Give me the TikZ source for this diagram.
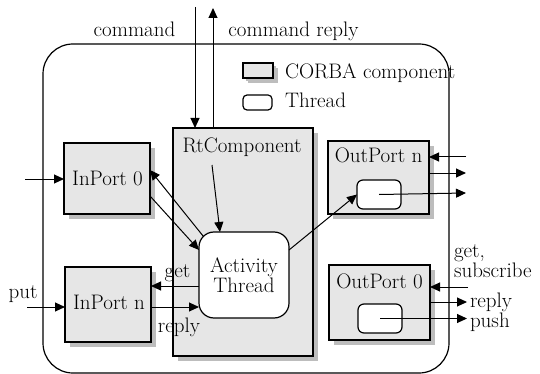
\documentclass[tikz,border=0pt]{standalone}
\usetikzlibrary{arrows.meta,shadows}
\definecolor{boxgray}{HTML}{E6E6E6}
\definecolor{shadowgray}{HTML}{BDBDBD}
\begin{document}
\begin{tikzpicture}[x=1pt,y=-1pt,
  every node/.style={font=\fontsize{21}{21}\selectfont, inner sep=0pt, outer sep=0pt},
  comp/.style={draw, line width=1.2pt, fill=boxgray,
    drop shadow={shadow xshift=5pt, shadow yshift=-5pt, fill=shadowgray, opacity=1}},
  thr/.style={draw, line width=1.2pt, fill=white, rounded corners=6pt},
  arr/.style={line width=1pt, -{Triangle[length=10pt,width=9pt]}},
  lbl/.style={anchor=base},
  lblw/.style={anchor=base west}]
\useasboundingbox (0,0) rectangle (540,374);

% outer component boundary
\draw[line width=1.2pt, rounded corners=30pt] (43,44) rectangle (449,373);

% legend
\node[comp, drop shadow={shadow xshift=3pt, shadow yshift=-3pt, fill=shadowgray, opacity=1},
  minimum width=30pt, minimum height=15pt] (lgcomp) at (258,70.5) {};
\node[thr, rounded corners=4pt, minimum width=29pt, minimum height=15pt] (lgthr) at (257.5,102.5) {};
\node[lblw] (lgcomptxt) at (285,79) {CORBA component};
\node[lblw] (lgthrtxt) at (285,108) {Thread};

% components
\node[comp, minimum width=140pt, minimum height=228pt] (rt) at (243,242) {};
\node[lbl] (rttxt) at (242,153) {RtComponent};
\node[comp, minimum width=86pt, minimum height=71pt] (in0) at (107,178.5) {};
\node[lbl] at (107.5,185) {InPort 0};
\node[comp, minimum width=86pt, minimum height=75pt] (inn) at (108,304.5) {};
\node[lbl] at (109,309.5) {InPort n};
\node[comp, minimum width=101pt, minimum height=73pt] (outn) at (378.5,177.5) {};
\node[lbl] at (378.5,163) {OutPort n};
\node[thr, minimum width=44pt, minimum height=29pt] (outnt) at (379,194.5) {};
\node[comp, minimum width=101pt, minimum height=75pt] (out0) at (379.5,302.5) {};
\node[lbl] at (379.5,288) {OutPort 0};
\node[thr, minimum width=44pt, minimum height=29pt] (out0t) at (380,318.5) {};

% activity thread
\node[thr, rounded corners=15pt, minimum width=90pt, minimum height=86pt,
  align=center, font=\fontsize{21}{20}\selectfont] (act) at (244,275) {Activity\\Thread};

% command channel
\coordinate (cmdsrc) at (195,7);
\coordinate (cmddst) at (213,8);
\node[lbl] at (134.5,36.5) {command};
\node[lbl] at (293.5,36.5) {command reply};
\draw[arr] (cmdsrc) -- (cmdsrc |- rt.north);
\draw[arr] (cmddst |- rt.north) -- (cmddst);

% input side
\coordinate (in0src) at (25,179);
\coordinate (putsrc) at (27,307);
\node[lbl] at (23,298) {put};
\draw[arr] (in0src) -- (in0src -| in0.west);
\draw[arr] (putsrc) -- (putsrc -| inn.west);
\draw[arr] ([shift={(4.4pt,-4.4pt)}]act.north west) -- ([yshift=8.5pt]in0.east);
\draw[arr] ([yshift=-17.5pt]in0.east) -- ([yshift=25pt]act.west);
\coordinate (rtsrc) at (212,165);
\draw[arr] (rtsrc) -- ([xshift=-24pt]act.north);
\draw[arr] ([yshift=-11pt]act.west) -- ([yshift=-11pt]act.west -| inn.east);
\draw[arr] ([yshift=-2.5pt]inn.east) -- ([yshift=-2.5pt]inn.east -| act.west);
\node[lbl] at (177.5,277) {get};
\node[lbl] at (179,332) {reply};

% output side
\draw[arr] ([yshift=25pt]act.east) -- (outnt.west);
\coordinate (outnin) at (466,157);
\coordinate (outnout) at (466,173);
\coordinate (outntout) at (466,193);
\draw[arr] (outnin) -- (outnin -| outn.east);
\draw[arr] (outnout -| outn.east) -- (outnout);
\draw[arr] (outnt.center) -- (outntout);

\coordinate (out0in) at (468,287);
\coordinate (out0rep) at (467,302);
\coordinate (out0push) at (467,318.5);
\node[lblw] at (454,257) {get,};
\node[lblw] at (454,277) {subscribe};
\node[lblw] at (470,307) {reply};
\node[lblw] at (470,327) {push};
\draw[arr] (out0in) -- (out0in -| out0.east);
\draw[arr] (out0rep -| out0.east) -- (out0rep);
\draw[arr] (out0t.center) -- (out0push);
\end{tikzpicture}
\end{document}
